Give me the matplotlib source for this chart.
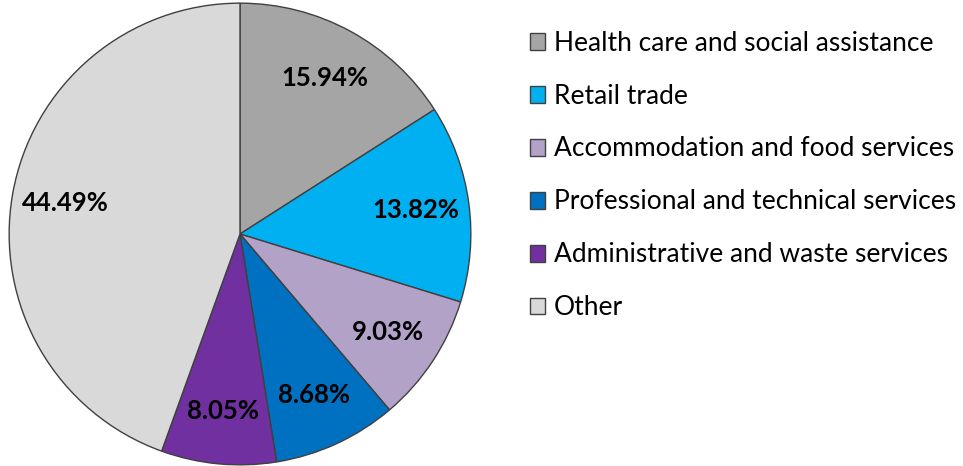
import numpy as np
import matplotlib.pyplot as plt
from matplotlib.patches import Patch

# sector shares (percent), clockwise from 12 o'clock
labels = ['Health care and social assistance', 'Retail trade',
          'Accommodation and food services', 'Professional and technical services',
          'Administrative and waste services', 'Other']
shares = [15.94, 13.82, 9.03, 8.68, 8.05, 44.49]
colors = ['#A5A5A5', '#00B0F0', '#B3A2C7', '#0070C0', '#7030A0', '#D9D9D9']

plt.rcParams['font.family'] = ['Lato', 'DejaVu Sans']

fig = plt.figure(figsize=(9.63, 4.66), dpi=100)
ax = fig.add_axes([8 / 963, 0 / 466, 464 / 963, 464 / 466])

wedges, texts = ax.pie(shares, colors=colors, startangle=90, counterclock=False,
                       radius=1.0, wedgeprops=dict(edgecolor='#404040', linewidth=1.0))
for w, s in zip(wedges, shares):
    ang = np.deg2rad((w.theta1 + w.theta2) / 2)
    ax.text(0.77 * np.cos(ang), 0.77 * np.sin(ang), f'{s:.2f}%',
            ha='center', va='center', fontsize=18.5, fontweight='bold', color='black')
ax.set_xlim(-1.005, 1.005)
ax.set_ylim(-1.005, 1.005)
ax.set_aspect('equal')
ax.axis('off')

handles = [Patch(facecolor=c, edgecolor='#404040', linewidth=1.0) for c in colors]
fig.legend(handles, labels, loc='upper left', bbox_to_anchor=(519 / 963, 1 - 20 / 466),
           frameon=False, fontsize=19, handlelength=0.6, handleheight=0.6,
           handletextpad=0.33, labelspacing=1.06, borderaxespad=0)

fig.savefig('out.png', dpi=100)
